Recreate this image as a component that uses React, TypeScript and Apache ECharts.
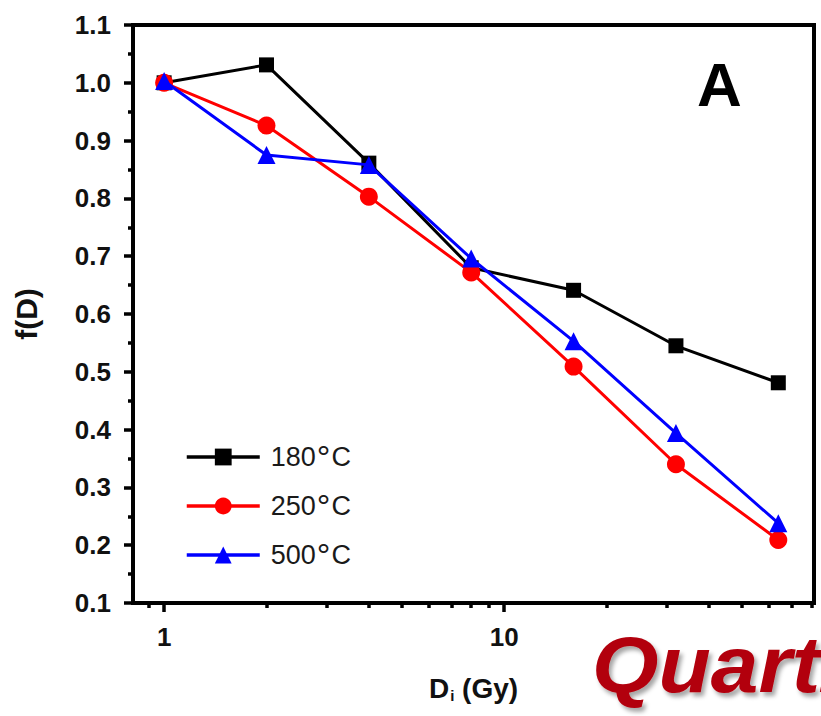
import React, { useEffect, useRef } from "react";
import * as echarts from "echarts";

// Dose steps (Gy) and normalised response f(D) for each preheat temperature
const doses = [1, 2, 4, 8, 16, 32, 64];
const f180 = [1.0, 1.031, 0.861, 0.68, 0.641, 0.545, 0.481];
const f250 = [1.0, 0.926, 0.803, 0.672, 0.509, 0.34, 0.209];
const f500 = [1.003, 0.875, 0.858, 0.696, 0.553, 0.394, 0.238];

const seriesNames = ["180°C", "250°C", "500°C"];
const seriesColors = ["#000000", "#ff0000", "#0000ff"];
const seriesSymbols = ["rect", "circle", "triangle"];

const xMajorTicks = [1, 10];
const xMinorTicks = [0.9, 2, 3, 4, 5, 6, 7, 8, 9, 20, 30, 40, 50, 60, 70, 80];

const font = "Arial, 'Liberation Sans', Helvetica, sans-serif";

export default function App() {
  const ref = useRef<HTMLDivElement>(null);

  useEffect(() => {
    if (!ref.current) return;
    const chart = echarts.init(ref.current, undefined, { renderer: "svg" });
    const pairs = (ys: number[]) => doses.map((d, i) => [d, ys[i]]);
    const allValues = [f180, f250, f500];

    const xBase = {
      type: "log" as const,
      logBase: 10,
      min: 0.81,
      max: 81.5,
      position: "bottom" as const,
      splitLine: { show: false },
    };

    chart.setOption({
      animation: false,
      backgroundColor: "#ffffff",
      grid: {
        left: 133,
        right: 7,
        top: 25,
        bottom: 113,
        show: true,
        borderColor: "#000",
        borderWidth: 4,
        backgroundColor: "transparent",
      },
      xAxis: [
        {
          ...xBase,
          name: "{b|D}{s|i}{b| (Gy)}",
          nameLocation: "middle",
          nameGap: 71,
          nameTextStyle: {
            rich: {
              b: { fontFamily: font, fontWeight: "bold", fontSize: 28, color: "#111" },
              s: {
                fontFamily: font,
                fontWeight: "bold",
                fontSize: 15,
                color: "#111",
                verticalAlign: "bottom",
                padding: [14, 0, 0, 1],
              },
            },
          },
          axisLine: { lineStyle: { color: "#000", width: 4 } },
          axisTick: {
            customValues: xMajorTicks,
            length: 9,
            lineStyle: { color: "#000", width: 3.5 },
          },
          axisLabel: {
            customValues: xMajorTicks,
            fontFamily: font,
            fontWeight: "bold",
            fontSize: 26,
            color: "#111",
            margin: 21,
            formatter: (v: number) => String(Math.round(v)),
          },
        },
        {
          ...xBase,
          axisLine: { show: false },
          axisTick: {
            customValues: xMinorTicks,
            length: 5,
            lineStyle: { color: "#000", width: 3.5 },
          },
          axisLabel: { show: false },
        },
      ],
      yAxis: {
        type: "value",
        min: 0.1,
        max: 1.1,
        interval: 0.1,
        name: "f(D)",
        nameLocation: "middle",
        nameGap: 92,
        nameTextStyle: {
          fontFamily: font,
          fontWeight: "bold",
          fontSize: 30,
          color: "#111",
        },
        splitLine: { show: false },
        axisLine: { show: true, lineStyle: { color: "#000", width: 4 } },
        axisTick: { length: 9, lineStyle: { color: "#000", width: 3.5 } },
        minorTick: {
          show: true,
          splitNumber: 2,
          length: 5,
          lineStyle: { color: "#000", width: 3.5 },
        },
        axisLabel: {
          fontFamily: font,
          fontWeight: "bold",
          fontSize: 26,
          color: "#111",
          margin: 22,
          formatter: (v: number) => v.toFixed(1),
        },
      },
      legend: {
        data: seriesNames,
        orient: "vertical",
        left: 185,
        top: 440,
        padding: 0,
        itemWidth: 73,
        itemHeight: 21,
        itemGap: 15,
        lineStyle: { width: 3.5 },
        formatter: (name: string) => {
          const [num, unit] = name.split("°");
          return `{n|${num}}{d|°}{n|${unit}}`;
        },
        textStyle: {
          fontFamily: font,
          fontSize: 27,
          color: "#1a1a1a",
          lineHeight: 30,
          padding: [0, 0, 0, 6],
          rich: {
            n: { fontFamily: font, fontSize: 27, color: "#1a1a1a", lineHeight: 30 },
            d: {
              fontFamily: font,
              fontSize: 34,
              color: "#1a1a1a",
              lineHeight: 30,
              padding: [0, 1, 0, 1],
            },
          },
        },
      },
      series: seriesNames.map((name, i) => ({
        name,
        type: "line",
        data: pairs(allValues[i]),
        xAxisIndex: 0,
        color: seriesColors[i],
        symbol: seriesSymbols[i],
        symbolSize: i === 0 ? 15 : 18,
        lineStyle: { width: 3, color: seriesColors[i] },
        itemStyle: { color: seriesColors[i] },
        z: 2 + i,
      })),
      graphic: [
        {
          type: "text",
          left: 697,
          top: 53,
          style: {
            text: "A",
            fontFamily: font,
            fontWeight: "bold",
            fontSize: 62,
            fill: "#000",
          },
        },
        {
          type: "text",
          x: 592,
          y: 704,
          scaleX: 1.07,
          style: {
            text: "Quartz",
            fontFamily: font,
            fontWeight: "bold",
            fontStyle: "italic",
            fontSize: 80,
            fill: "#b2000d",
            textVerticalAlign: "bottom",
            textShadowColor: "rgba(0,0,0,0.35)",
            textShadowBlur: 4,
            textShadowOffsetX: 3,
            textShadowOffsetY: 4,
          },
        },
      ],
    });
    return () => chart.dispose();
  }, []);

  return (
    <div
      ref={ref}
      style={{
        position: "fixed",
        left: 0,
        top: 0,
        width: 821,
        height: 716,
        overflow: "hidden",
        background: "#fff",
      }}
    />
  );
}
